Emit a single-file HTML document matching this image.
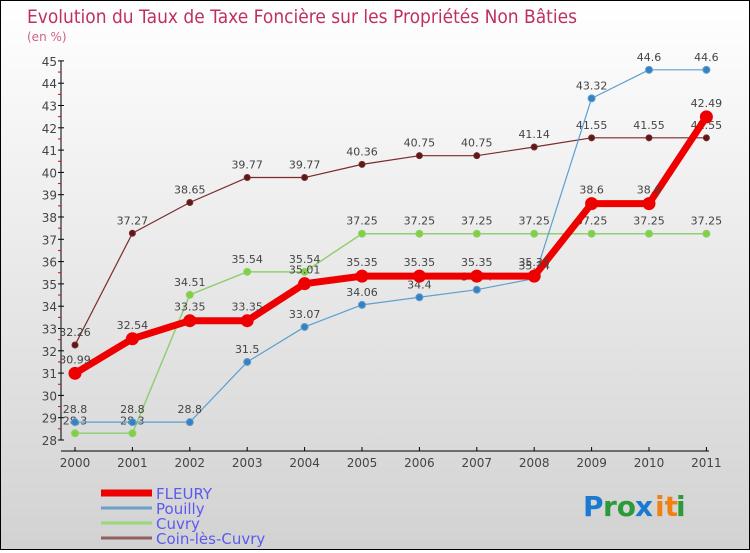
<!DOCTYPE html>
<html><head><meta charset="utf-8"><style>
html,body{margin:0;padding:0}
body{width:750px;height:550px;overflow:hidden;font-family:"DejaVu Sans","Liberation Sans",sans-serif}
#wrap{position:relative;width:748px;height:548px;border:1px solid #000;background:linear-gradient(#ffffff,#d2d2d2)}
svg text{font-family:"DejaVu Sans","Liberation Sans",sans-serif}
</style></head><body>
<div id="wrap">
<svg id="c" width="748" height="548">
<text x="26" y="22" font-size="19" fill="#c0305e" textLength="550" lengthAdjust="spacingAndGlyphs">Evolution du Taux de Taxe Foncière sur les Propriétés Non Bâties</text>
<text x="26" y="40" font-size="12" fill="#d0608a">(en %)</text>
<g id="axes"></g><g id="series"></g><g id="legend"></g>
<g font-size="28" font-weight="bold">
<text x="582" y="515" fill="#1a7ad0">P</text><text x="602" y="515" fill="#2a9a3a">ro</text><text x="634" y="515" fill="#1a7ad0">x</text><text x="654" y="515" fill="#f08010">it</text><text x="675" y="515" fill="#2a9a3a">i</text>
</g>
</svg></div>
<script>
const years=["2000","2001","2002","2003","2004","2005","2006","2007","2008","2009","2010","2011"];
const yTicks=[28,29,30,31,32,33,34,35,36,37,38,39,40,41,42,43,44,45];
const fleury=[30.99,32.54,33.35,33.35,35.01,35.35,35.35,35.35,35.35,38.6,38.6,42.49];
const pouilly=[28.8,28.8,28.8,31.5,33.07,34.06,34.4,34.74,35.24,43.32,44.6,44.6];
const cuvry=[28.3,28.3,34.51,35.54,35.54,37.25,37.25,37.25,37.25,37.25,37.25,37.25];
const coin=[32.26,37.27,38.65,39.77,39.77,40.36,40.75,40.75,41.14,41.55,41.55,41.55];
const pLabels=["28.8","28.8","28.8","31.5","33.07","34.06","34.4","34.74","35.24","43.32","44.6","44.6"];
const NS="http://www.w3.org/2000/svg";
const X=i=>74+i*57.4;
const Y=v=>439-(v-28)*22.3;
function el(t,a,p){const e=document.createElementNS(NS,t);for(const k in a)e.setAttribute(k,a[k]);p.appendChild(e);return e;}
const ax=document.getElementById('axes');
const yl=el('line',{x1:60,y1:Y(45),x2:60,y2:Y(28),stroke:'#000'},ax);

yTicks.forEach(v=>{
 el('line',{x1:57,x2:63,y1:Y(v),y2:Y(v),stroke:'#000'},ax);
 if(v<45) el('line',{x1:57,x2:60,y1:Y(v+0.5),y2:Y(v+0.5),stroke:'#e00000'},ax);
 const t=el('text',{x:56,y:Y(v)+5,'font-size':12,fill:'#444','text-anchor':'end'},ax);t.textContent=v;
 
});
const xl=el('line',{x1:60,y1:450,x2:708,y2:450,stroke:'#000'},ax);

years.forEach((y,i)=>{
 el('line',{x1:X(i),x2:X(i),y1:446,y2:450,stroke:'#000'},ax);
 const t=el('text',{x:X(i),y:466,'font-size':12,fill:'#444','text-anchor':'middle'},ax);t.textContent=y;
 
});
const sg=document.getElementById('series');
function series(name,vals,labels,color,w,r,fill,labDy){
 const g=el('g',{},sg);
 el('polyline',{points:vals.map((v,i)=>X(i)+','+Y(v)).join(' '),fill:'none',stroke:color,'stroke-width':w,'stroke-linejoin':'round'},g);
 vals.forEach((v,i)=>{
  const c=el('circle',{cx:X(i),cy:Y(v),r:r,fill:fill,stroke:color,'stroke-width':1},g);
  
  const t=el('text',{x:X(i),y:Y(v)-labDy,'font-size':11,fill:'#444','text-anchor':'middle'},g);t.textContent=labels[i];
  
 });
}
series('coin-les-cuvry',coin,coin.map(String),'#7a2a2a',1.2,3,'#5a1a1a',9);
series('cuvry',cuvry,cuvry.map(String),'#90d070',1.5,3.5,'#80d040',9);
series('pouilly',pouilly,pLabels,'#5aa0d0',1.2,3.5,'#3a80c0',9);
series('fleury',fleury,fleury.map(String),'#ee0000',7,6,'#ee0000',10);
const lg=document.getElementById('legend');
[['FLEURY','#ee0000',7],['Pouilly','#6aa0c8',3],['Cuvry','#98d878',3],['Coin-lès-Cuvry','#906060',3]].forEach((d,i)=>{
 const y=492+i*15;
 const g=el('g',{},lg);
 el('line',{x1:100,x2:151,y1:y,y2:y,stroke:d[1],'stroke-width':d[2]},g);
 const t=el('text',{x:155,y:y+6,'font-size':15,fill:'#5a5af0'},g);t.textContent=d[0];
});
</script>
</body></html>
